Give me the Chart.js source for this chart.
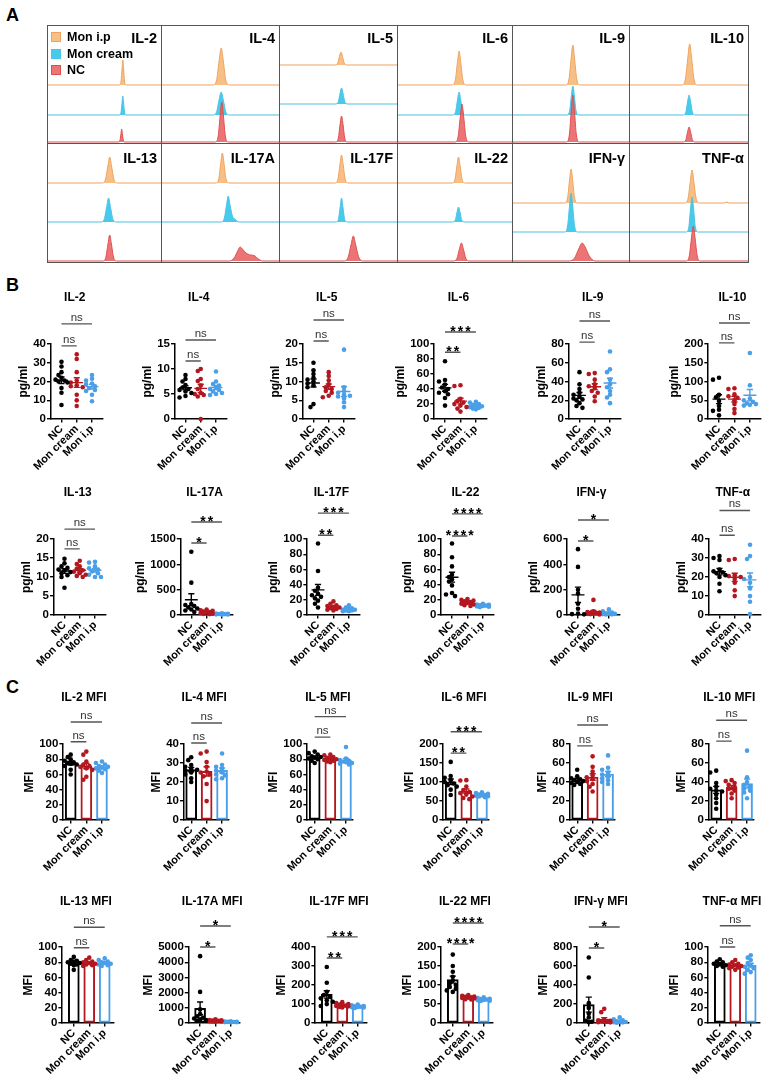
<!DOCTYPE html>
<html><head><meta charset="utf-8"><title>Cytokine figure</title>
<script src="https://cdn.jsdelivr.net/npm/chart.js@4.4.1/dist/chart.umd.min.js"></script>
<style>
html,body{margin:0;padding:0;background:#fff;}
body{position:relative;width:771px;height:1079px;overflow:hidden;font-family:'Liberation Sans',Arial,Helvetica,sans-serif;color:#000;}
.pl{position:absolute;left:6px;font-weight:bold;font-size:18px;line-height:20px;}
.ct{position:absolute;font-weight:bold;font-size:14.5px;line-height:16px;text-align:right;z-index:3;white-space:nowrap;}
.ln{position:absolute;background:#555;z-index:4;}
.lg{position:absolute;left:51px;font-weight:bold;font-size:12.5px;line-height:14px;z-index:3;white-space:nowrap;}
.lg span{display:inline-block;width:8px;height:8px;border:1.5px solid;vertical-align:-1px;margin-right:6px;}
</style></head><body>
<div class="pl" style="top:5px">A</div>
<div class="pl" style="top:275px">B</div>
<div class="pl" style="top:677px">C</div>
<script>
// ---------------- DATA ----------------
const groups = ['NC', 'Mon cream', 'Mon i.p'];
const cytokines = ['IL-2','IL-4','IL-5','IL-6','IL-9','IL-10','IL-13','IL-17A','IL-17F','IL-22','IFN-γ','TNF-α'];

// Panel A: histogram outlines, [channel (0-100), events] for NC, Mon cream, Mon i.p
const histIL2 = [
 [[63,0],[64.1,2],[64.9,8.5],[65.5,13],[66.1,8.5],[66.9,2],[68,0]],
 [[63.7,0],[65,3],[65.8,12],[66.5,19],[67.2,12],[68,3],[69.3,0]],
 [[63.7,0],[65,4],[65.8,16],[66.5,25],[67.2,16],[68,4],[69.3,0]]];
const histIL4 = [
 [[46,0],[48.5,6],[50.1,26],[51.5,40],[52.9,26],[54.5,6],[57,0]],
 [[44,0],[47.2,3.5],[49.2,15],[51,23],[52.8,15],[54.8,3.5],[58,0]],
 [[44,0],[47.2,5.5],[49.2,24],[51,37],[52.8,24],[54.8,5.5],[58,0]]];
const histIL5 = [
 [[48,0],[50.3,4],[51.7,17],[53,26],[54.3,17],[55.7,4],[58,0]],
 [[48,0],[50.3,2.4],[51.7,10.4],[53,16],[54.3,10.4],[55.7,2.4],[58,0]],
 [[47.5,0],[49.8,2],[51.2,8.5],[52.5,13],[53.8,8.5],[55.2,2],[57.5,0]]];
const histIL6 = [
 [[50.5,0],[53.2,5.7],[55,25],[56.5,38],[58,25],[59.8,5.7],[62.5,0]],
 [[48.5,0],[51,3.5],[52.6,15],[54,23],[55.4,15],[57,3.5],[59.5,0]],
 [[48,0],[50.7,5],[52.5,22],[54,34],[55.5,22],[57.3,5],[60,0]]];
const histIL9 = [
 [[46.5,0],[49,7],[50.6,30.5],[52,47],[53.4,30.5],[55,7],[57.5,0]],
 [[47,0],[49.3,4.4],[50.7,19],[52,29],[53.3,19],[54.7,4.4],[57,0]],
 [[46,0],[48.7,6],[50.5,26],[52,40],[53.5,26],[55.3,6],[58,0]]];
const histIL10 = [
 [[45.5,0],[47.8,2.3],[49.2,9.8],[50.5,15],[51.8,9.8],[53.2,2.3],[55.5,0]],
 [[45.5,0],[47.8,3],[49.2,13],[50.5,20],[51.8,13],[53.2,3],[55.5,0]],
 [[44.5,0],[47.4,6],[49.4,27],[51,41],[52.6,27],[54.6,6],[57.5,0]]];
const histIL13 = [
 [[49,0],[51.7,4],[53.5,17],[55,26],[56.5,17],[58.3,4],[61,0]],
 [[47.5,0],[50.4,3.6],[52.4,15.6],[54,24],[55.6,15.6],[57.6,3.6],[60.5,0]],
 [[48.5,0],[51.4,4],[53.4,17],[55,26],[56.6,17],[58.6,4],[61.5,0]]];
const histIL17A = [
 [[58,0],[62,3],[65,10],[67,14],[69,12],[72,8],[76,6],[79,5.5],[82,2.5],[86,0]],
 [[51,0],[53.7,4],[55.5,17],[57,26],[58.5,17],[60.5,6],[63,2.5],[66,0]],
 [[46.5,0],[49,4.5],[50.6,19.5],[52,30],[53.4,19.5],[55,4.5],[57.5,0]]];
const histIL17F = [
 [[55,0],[58.6,3.8],[61,16],[63,25],[65,16],[67.4,4.5],[71,0]],
 [[48.5,0],[50.5,3.6],[51.9,15.6],[53,24],[54.1,15.6],[55.5,3.6],[57.5,0]],
 [[47.5,0],[50,4.2],[51.6,18],[53,28],[54.4,18],[56,4.2],[58.5,0]]];
const histIL22 = [
 [[49,0],[52.2,2.7],[54.2,11.7],[56,18],[57.8,11.7],[59.8,2.7],[63,0]],
 [[48.5,0],[50.8,2.3],[52.2,9.8],[53.5,15],[54.8,9.8],[56.2,2.3],[58.5,0]],
 [[48,0],[50.5,4],[52.1,17],[53.5,26],[54.9,17],[56.5,4],[59,0]]];
const histIFNg = [
 [[49,0],[53.5,3],[57,12],[60,18],[62.5,14],[66,5],[71,0]],
 [[45,0],[47.5,6],[49.1,25],[50.5,39],[51.9,25],[53.5,6],[56,0]],
 [[45,0],[47.5,5],[49.1,22],[50.5,34],[51.9,22],[53.5,5],[56,0]]];
const histTNFa = [
 [[48,0],[50.7,5.3],[52.5,23],[54,35],[55.5,23],[57.3,5.3],[60,0]],
 [[48,0],[50.3,5.3],[51.7,23],[53,35],[54.3,23],[55.7,5.3],[58,0]],
 [[47,0],[49.7,5],[51.5,21.5],[53,33],[54.5,21.5],[56.3,5],[59,0],[80,0],[82,1],[84,0]]];
const histData = [histIL2,histIL4,histIL5,histIL6,histIL9,histIL10,histIL13,histIL17A,histIL17F,histIL22,histIFNg,histTNFa];

// Panel B: concentration (pg/ml), per cytokine [NC, Mon cream, Mon i.p]
const pgIL2 = [[30.5,28,25,23.5,22,21,20.5,20,19.5,16.5,14,7.5],[34.5,32,25,20.5,19.5,18,17.5,17,13,10,7],[23.5,21.5,20.5,19,18.5,17.5,16.5,15.5,15,13,9.5]];
const pgIL4 = [[8.8,8,7.5,6.8,6.3,6,5.8,5.5,5.2,4.6,4.3],[10,9.6,8,7.6,6.7,6,5.2,5,4.8,4.5,0],[9.5,7.5,7,6.7,6.3,6,5.8,5.5,5.2,5,4.8]];
const pgIL5 = [[15,13,12,11,10.5,10,9.5,9,8.5,4,3.2],[12.5,11.5,10.3,9.3,8.5,8,7.5,7,6.2,5.8],[18.5,8.5,7.5,7,6.5,6.2,6,5.5,4.5,3.2]];
const pgIL6 = [[77,52,50,46,42,40,37,35,33,28,18],[45,44,27,24,22,20,18,16,14,10],[23,22,20,19,18,17,16,15,14,13]];
const pgIL9 = [[50,37,32,28,26,24,22,21,20,17,14,12],[49,48,42,37,35,33,30,28,24,19],[72,53,50,42,37,34,30,26,23,17]];
const pgIL10 = [[110,105,65,58,48,35,25,22,10],[82,80,66,61,57,50,40,27,16],[176,90,55,50,46,42,40,38,36]];
const pgIL13 = [[14.8,13.6,12.8,12.4,12,11.7,11.3,11,10.5,10,7.2],[14.3,13.4,12.8,12.2,11.8,11.4,11,10.6,10.3,10],[14,13.8,12.8,12.3,12,11.5,11,10.6,10,10]];
const pgIL17A = [[1250,640,220,200,180,150,130,110,90,60],[110,95,85,70,60,50,40,30,25,20],[35,30,25,22,20,18,15,12,10]];
const pgIL17F = [[94,58,36,32,28,26,24,22,19,15,10],[18,15,13,12,11,10,9,8,7,6],[13,10,9,8,7,7,6,6,5,5]];
const pgIL22 = [[94,76,64,53,50,47,44,39,29,27,25],[21,20,19,18,17,16,15,14,13,12],[15,14,13.5,13,12.5,12,11.5,11,10.5]];
const pgIFNg = [[520,380,200,170,90,50,12,8,6],[120,30,25,20,18,15,12,10,8,5],[45,30,20,15,12,10,8,6,5]];
const pgTNFa = [[31,30,29,24,23,22.5,22,21,20,16.5,12.5],[29.5,29,21,20.5,20,19,17,13,10],[37,31,29.5,20,19,17,14,10,7,0.5]];
const pgData = [pgIL2,pgIL4,pgIL5,pgIL6,pgIL9,pgIL10,pgIL13,pgIL17A,pgIL17F,pgIL22,pgIFNg,pgTNFa];
const pgMax = [40,15,20,100,80,200,20,1500,100,100,600,40];
const pgStep = [10,5,5,20,20,50,5,500,20,20,200,10];
const pgSigLow = ['ns','ns','ns','**','ns','ns','ns','*','**','****','*','ns'];
const pgSigHigh = ['ns','ns','ns','***','ns','ns','ns','**','***','****','*','ns'];

// Panel C: MFI, per cytokine [NC, Mon cream, Mon i.p]
const mfiIL2 = [[86,83,80,78,76,75,74,73,71,66,60],[90,86,77,73,71,70,68,66,57,53],[77,75,73,71,70,69,68,67,65,62]];
const mfiIL4 = [[33,31.5,29,28,27,26.5,26,25,24,22,20],[36,35,30.5,28,25.5,25,24,23,19,10],[35,29,28,27,26,25,24,23.5,22,21.5]];
const mfiIL5 = [[90,88,86,84,83,82,81,80,78,75],[86,85,83,82,81,80,79,78,77,76],[96,81,79,78,77,76,75,74,73]];
const mfiIL6 = [[153,116,111,105,100,96,92,88,80,66],[105,104,88,79,74,71,67,62,58,55],[73,71,69,67,66,65,64,63,62,60]];
const mfiIL9 = [[53,46,44,43,42,41,40,39,38,37],[67,56,51,47,45,43,41,38,35,30],[68,55,53,50,48,46,44,42,40,38]];
const mfiIL10 = [[52,50,39,35,33,31,30,27,23,18,12],[42,41,39,37,35,33,31,28,23],[73,45,40,37,35,33,31,29,23]];
const mfiIL13 = [[87,83,82,81,80,79,78,77,76,70],[86,83,81,80,79,78,77,76,75],[85,83,81,80,79,78,77,76,75]];
const mfiIL17A = [[4400,2050,900,600,450,350,300,250,200,150],[250,200,180,160,150,140,130,120,110,100],[120,100,90,80,75,70,65,60,55]];
const mfiIL17F = [[295,212,165,147,138,130,120,112,100,90],[110,105,100,97,94,92,90,88,85,82],[98,94,90,88,86,85,84,82,80]];
const mfiIL22 = [[180,150,135,122,112,105,100,95,90,86,82],[74,72,70,69,68,67,66,65,63,62],[68,66,64,63,62,61,60,59,58]];
const mfiIFNg = [[690,480,210,160,100,60,25,15,10],[150,115,40,30,25,20,15,12,10,8],[60,40,30,20,15,12,10,8,5]];
const mfiTNFa = [[84,81,80,78,77,76,75,74],[83,80,78,77,76,75,74,73,72,70],[89,86,83,79,76,74,72,70,67,65]];
const mfiData = [mfiIL2,mfiIL4,mfiIL5,mfiIL6,mfiIL9,mfiIL10,mfiIL13,mfiIL17A,mfiIL17F,mfiIL22,mfiIFNg,mfiTNFa];
const mfiMax = [100,40,100,200,80,80,100,5000,400,200,800,100];
const mfiStep = [20,10,20,50,20,20,20,1000,100,50,200,20];
const mfiSigLow = ['ns','ns','ns','**','ns','ns','ns','*','**','****','*','ns'];
const mfiSigHigh = ['ns','ns','ns','***','ns','ns','ns','*','***','****','*','ns'];

// ---------------- LAYOUT / STYLE ----------------
const FONT = "'Liberation Sans', Arial, Helvetica, sans-serif";
const grpColor = ['#000000', '#b3171f', '#4a9fe8'];
const hFill = ['rgba(234,92,92,0.85)', 'rgba(46,196,234,0.88)', 'rgba(246,180,112,0.85)'];
const hLine = ['#dd5050', '#4cc2e4', '#eea35e'];
const colX = [47,161,279,397,512,629,748];
const rowY = [25,143,262];
const histBase = [[117,90,60],[117,90,60],[117,79,40],[117,90,60],[117,90,60],[117,90,60],
                  [118,79,40],[118,79,40],[118,79,40],[118,79,40],[118,89,60],[118,89,60]];
// bracket heights (in axis units) for [NC vs Mon cream, NC vs Mon i.p]
const pgBracket = [[39,50.7],[11.6,15.8],[20.8,26.4],[89,116],[82,104.5],[203,256],[17.4,22.6],[1421,1836],[105,134],[104,133],[584,750],[42,55]];
const mfiBracket = [[103,129],[40.5,51],[109,136],[176,232],[78,100],[83,105],[99,126],[5000,6380],[342,453],[208,263],[790,1010],[100,128]];
const bAxisX = [50,174,302,434,568,708,53,180,307,441,567,708];
const bTopY = [344,344,344,344,344,344,539,539,539,539,539,539];
const cAxisX = [63,183,307,443,569,708,62,188,315,441,577,708];
const cTopY = [744,744,744,744,744,744,947,947,947,947,947,947];

Chart.defaults.font.family = FONT;
Chart.defaults.font.weight = 'bold';
Chart.defaults.color = '#000';
Chart.defaults.animation = false;
Chart.defaults.responsive = false;
Chart.defaults.maintainAspectRatio = false;
Chart.defaults.events = [];
Chart.defaults.plugins.legend.display = false;
Chart.defaults.plugins.tooltip.enabled = false;

function el(tag, cls, css, parent) {
  const e = document.createElement(tag);
  if (cls) e.className = cls;
  if (css) e.style.cssText = css;
  (parent || document.body).appendChild(e);
  return e;
}
function mkChart(wrap, w, h, cfg) {
  const cv = document.createElement('canvas');
  cv.width = w; cv.height = h;
  cv.style.width = w + 'px'; cv.style.height = h + 'px';
  wrap.appendChild(cv);
  return new Chart(cv, cfg);
}

// ---------------- PANEL A ----------------
el('div', 'ln', `left:${colX[0]}px;top:${rowY[0]}px;width:${colX[6]-colX[0]+1}px;height:1px;`);
el('div', 'ln', `left:${colX[0]}px;top:${rowY[1]}px;width:${colX[6]-colX[0]+1}px;height:1px;`);
el('div', 'ln', `left:${colX[0]}px;top:${rowY[2]}px;width:${colX[6]-colX[0]+1}px;height:1px;`);
colX.forEach(x => el('div', 'ln', `left:${x}px;top:${rowY[0]}px;width:1px;height:${rowY[2]-rowY[0]+1}px;`));

histData.forEach((curves, i) => {
  const r = Math.floor(i / 6), c = i % 6;
  const L = colX[c], T = rowY[r], W = colX[c+1] - L, H = rowY[r+1] - T;
  const wrap = el('div', '', `position:absolute;left:${L}px;top:${T}px;width:${W}px;height:${H}px;`);
  const scales = { x: { type: 'linear', min: 0, max: 100, display: false } };
  const datasets = curves.map((pts, k) => {
    scales['y' + k] = { type: 'linear', display: false, min: histBase[i][k] - H, max: histBase[i][k] };
    return {
      label: groups[k], type: 'line', yAxisID: 'y' + k, order: k,
      data: [{x: 0, y: 0}, ...pts.map(p => ({x: p[0], y: p[1]})), {x: 100, y: 0}],
      fill: 'origin', backgroundColor: hFill[k], borderColor: hLine[k], borderWidth: 1,
      pointRadius: 0, cubicInterpolationMode: 'monotone'
    };
  });
  mkChart(wrap, W, H, { type: 'line', data: { datasets }, options: { scales, layout: { padding: 0 } } });
  const t = el('div', 'ct', `right:${771 - colX[c+1] + 4}px;top:${T + (r === 0 ? 5 : 6.5)}px;`);
  t.textContent = cytokines[i];
});
// legend (order as in the reference)
[[2, 'Mon i.p', 30], [1, 'Mon cream', 46.5], [0, 'NC', 63]].forEach(([k, txt, y]) => {
  const d = el('div', 'lg', `top:${y}px;`);
  el('span', '', `background:${hFill[k]};border-color:${hLine[k]};`, d);
  d.appendChild(document.createTextNode(txt));
});

// ---------------- PANELS B & C ----------------
function mean(a) { return a.reduce((s, v) => s + v, 0) / a.length; }
function sem(a) { const m = mean(a); return Math.sqrt(a.reduce((s, v) => s + (v - m) * (v - m), 0) / (a.length - 1)) / Math.sqrt(a.length); }
// deterministic bee-swarm spread of the dots (layout only)
function swarm(vals, pyu, pxu, g) {
  const idx = vals.map((_, i) => i).sort((a, b) => vals[b] - vals[a]);
  const placed = [], xs = [];
  const d = 3.6, cands = [0, -1, 1, -2, 2];
  for (const i of idx) {
    const yp = vals[i] * pyu;
    let best = 0, bestD = -1;
    for (const c of cands) {
      const xp = c * 3.0;
      const md = placed.reduce((m, p) => Math.min(m, Math.hypot(p.x - xp, p.y - yp)), 99);
      if (md >= d) { best = xp; bestD = md; break; }
      if (md > bestD + 0.3) { bestD = md; best = xp; }
    }
    placed.push({x: best, y: yp});
    xs[i] = g + best / pxu;
  }
  return xs;
}

const annot = {
  id: 'annot',
  afterDatasetsDraw(chart, _a, o) {
    const {ctx, chartArea: ca} = chart;
    const xs = chart.scales.x, ys = chart.scales.y;
    ctx.save();
    ctx.textAlign = 'center';
    ctx.fillStyle = '#000';
    ctx.font = `bold 12px ${FONT}`;
    ctx.textBaseline = 'middle';
    ctx.fillText(o.title, (ca.left + ca.right) / 2 - 2, ca.top - o.titleGap);
    o.sig.forEach(s => {
      const cx = (xs.getPixelForValue(s.a) + xs.getPixelForValue(s.b)) / 2;
      const yp = ys.getPixelForValue(s.y);
      ctx.textBaseline = 'alphabetic';
      if (s.label === 'ns') {
        ctx.font = `normal 11.5px ${FONT}`; ctx.fillStyle = '#333';
        if ('letterSpacing' in ctx) ctx.letterSpacing = '0px';
        ctx.fillText('ns', cx, yp - 3);
      } else {
        ctx.font = `bold 14px ${FONT}`; ctx.fillStyle = '#000';
        if ('letterSpacing' in ctx) ctx.letterSpacing = '2px';
        ctx.fillText(s.label, cx + 1, yp + 4);
      }
    });
    ctx.restore();
  }
};

function axisCommon() {
  return {
    grid: { display: true, drawOnChartArea: false, drawTicks: true, tickLength: 3.5, color: '#000', lineWidth: 1.4, offset: false },
    border: { display: true, color: '#000', width: 1.5 }
  };
}

function plot(o) {
  const wrap = el('div', '', 'position:absolute;left:0;top:0;');
  const pyu = o.h / o.yMax, pxu = o.w / (o.xMax - o.xMin);
  const means = o.data.map(mean), sems = o.data.map(sem);
  const cfg = () => {
    const datasets = [];
    o.data.forEach((vals, g) => {
      const xs = swarm(vals, pyu, pxu, g);
      datasets.push({ label: groups[g], type: 'scatter', order: 2, clip: false,
        data: vals.map((v, i) => ({x: xs[i], y: v})),
        pointRadius: 2.3, pointBackgroundColor: grpColor[g], pointBorderWidth: 0 });
      const m = means[g], s = sems[g], cap = 0.2, hw = 0.42;
      const pts = [];
      if (!o.bars) pts.push({x: g - hw, y: m}, {x: g + hw, y: m}, {x: g, y: null});
      pts.push({x: g, y: m - s}, {x: g, y: m + s}, {x: g, y: null},
               {x: g - cap, y: m + s}, {x: g + cap, y: m + s}, {x: g, y: null},
               {x: g - cap, y: m - s}, {x: g + cap, y: m - s});
      datasets.push({ label: groups[g] + ' mean ± SEM', type: 'line', order: 1, clip: false, data: pts,
        borderColor: grpColor[g], borderWidth: 1.4, pointRadius: 0, spanGaps: false, tension: 0 });
    });
    if (o.bars) {
      datasets.push({ label: 'mean', type: 'bar', order: 3, data: means.map((m, g) => ({x: g, y: m})),
        backgroundColor: '#ffffff', borderColor: grpColor, borderWidth: 2, borderSkipped: false, barThickness: 11 });
    }
    datasets.push({ label: 'significance', type: 'line', order: 0, clip: false,
      data: [{x: 0, y: o.br[0]}, {x: 1, y: o.br[0]}, {x: 1.5, y: null}, {x: 0, y: o.br[1]}, {x: 2, y: o.br[1]}],
      borderColor: '#555', borderWidth: 1.4, pointRadius: 0, spanGaps: false, tension: 0 });
    const cx = axisCommon(), cy = axisCommon();
    return {
      type: 'scatter',
      data: { datasets },
      plugins: [annot],
      options: {
        layout: { padding: { top: 62, right: 6, bottom: 2, left: 0 } },
        plugins: { annot: { title: o.title, titleGap: o.titleGap,
          sig: [{a: 0, b: 1, y: o.br[0], label: o.sig[0]}, {a: 0, b: 2, y: o.br[1], label: o.sig[1]}] } },
        scales: {
          x: Object.assign(cx, { type: 'linear', min: o.xMin, max: o.xMax, offset: false,
            afterBuildTicks: sc => { sc.ticks = [0, 1, 2].map(v => ({value: v})); },
            ticks: { autoSkip: false, minRotation: 45, maxRotation: 45, padding: 0, color: '#000',
              font: { size: 11, weight: 'bold' }, callback: v => groups[v] } }),
          y: Object.assign(cy, { type: 'linear', min: 0, max: o.yMax,
            afterBuildTicks: sc => { const t = []; for (let v = 0; v <= o.yMax + 1e-9; v += o.yStep) t.push({value: v}); sc.ticks = t; },
            ticks: { autoSkip: false, stepSize: o.yStep, padding: 1, color: '#000', font: { size: 11.5, weight: 'bold' }, callback: v => String(v) },
            title: { display: true, text: o.yTitle, color: '#000', font: { size: 12, weight: 'bold', lineHeight: 1.1 }, padding: { top: 0, bottom: 2 } } })
        }
      }
    };
  };
  let cw = 170, ch = 230;
  let chart = mkChart(wrap, cw, ch, cfg());
  let ca = chart.chartArea;
  cw = Math.round(cw + o.w - (ca.right - ca.left));
  ch = Math.round(ch + o.h - (ca.bottom - ca.top));
  chart.destroy(); wrap.innerHTML = '';
  chart = mkChart(wrap, cw, ch, cfg());
  ca = chart.chartArea;
  wrap.style.left = (o.axisX - ca.left) + 'px';
  wrap.style.top = (o.top - ca.top) + 'px';
}

cytokines.forEach((name, i) => {
  const row2 = i >= 6;
  plot({ title: name, yTitle: 'pg/ml', data: pgData[i], yMax: pgMax[i], yStep: pgStep[i],
    sig: [pgSigLow[i], pgSigHigh[i]], br: pgBracket[i], bars: false,
    axisX: bAxisX[i], top: bTopY[i], w: 53, h: row2 ? 76 : 75, xMin: -0.72, xMax: 2.72, titleGap: 46 });
  plot({ title: name + ' MFI', yTitle: 'MFI', data: mfiData[i], yMax: mfiMax[i], yStep: mfiStep[i],
    sig: [mfiSigLow[i], mfiSigHigh[i]], br: mfiBracket[i], bars: true,
    axisX: cAxisX[i], top: cTopY[i], w: row2 ? 52 : 46, h: 76,
    xMin: row2 ? -0.77 : -0.5, xMax: row2 ? 2.6 : 2.45, titleGap: row2 ? 45 : 46 });
});
</script>
</body></html>
